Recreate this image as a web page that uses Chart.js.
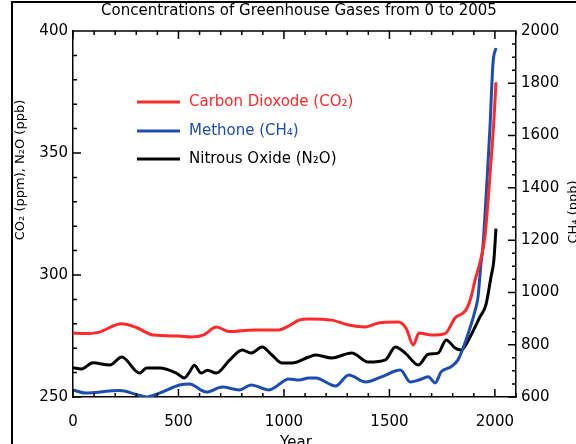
<!DOCTYPE html>
<html lang="en">
<head>
<meta charset="UTF-8">
<title>Concentrations of Greenhouse Gases from 0 to 2005</title>
<script src="https://cdn.jsdelivr.net/npm/chart.js"></script>
<style>
    html, body { margin: 0; padding: 0; background: #fff; }
    .wrap { position: relative; width: 576px; height: 444px; overflow: hidden; }
    canvas { position: absolute; left: 0; top: 0; }
    .frame {
        position: absolute; left: 11px; top: 1px; width: 600px; height: 500px;
        border-left: 2px solid #000; border-top: 2px solid #000; pointer-events: none;
    }
</style>
</head>
<body>
<div class="wrap">
    <canvas id="ghg" width="576" height="444"></canvas>
    <div class="frame"></div>
</div>
<script>
// data
const co2Years = [0, 50, 120, 230, 300, 380, 500, 560, 620, 680, 740, 860, 976, 1030, 1070, 1118, 1226, 1307, 1387, 1448, 1542, 1580, 1613, 1640, 1700, 1764, 1811, 1863, 1887, 1906, 1929, 1953, 1981, 1995, 2005];
const co2Values = [276.2, 276, 276.5, 280, 278.5, 275.4, 275, 274.6, 275.5, 278.7, 276.8, 277.5, 277.5, 279.5, 281.5, 282, 281.5, 279.5, 278.7, 280.3, 280.7, 278, 271.3, 276.2, 275.4, 276, 282.4, 285.7, 291, 298, 305, 316, 346, 363, 379];

const ch4Years = [0, 60, 175, 222, 300, 349, 410, 505, 552, 632, 708, 788, 844, 929, 1024, 1071, 1118, 1151, 1245, 1307, 1387, 1462, 1552, 1599, 1640, 1684, 1717, 1745, 1790, 1825, 1863, 1906, 1920, 1934, 1943, 1958, 1976, 1991, 2005];
const ch4Values = [627, 615, 623, 625, 610, 600, 615, 646, 650, 619, 638, 627, 646, 627, 669, 665, 673, 673, 642, 684, 657, 677, 703, 657, 665, 677, 654, 696, 715, 742, 818, 930, 983, 1110, 1174, 1365, 1621, 1877, 1935];

const n2oYears = [0, 40, 94, 175, 231, 316, 349, 410, 490, 528, 552, 575, 608, 637, 679, 741, 802, 844, 896, 943, 991, 1038, 1118, 1151, 1226, 1321, 1401, 1481, 1528, 1575, 1637, 1684, 1731, 1769, 1811, 1840, 1887, 1929, 1958, 1981, 1995, 2005];
const n2oValues = [262, 261.5, 264, 263.1, 266.4, 259.8, 261.9, 261.9, 259.8, 257.8, 260.2, 263, 259.8, 261, 259.8, 265, 269.3, 268, 270.5, 267.2, 263.9, 263.9, 266.4, 267.2, 266, 268, 264.3, 265.2, 270.5, 268, 263.1, 267.5, 268, 273.4, 270.1, 269.3, 275.4, 282.8, 288, 299, 306, 319];

const seriesNames = ["Carbon Dioxode (CO\u2082)", "Methone (CH\u2084)", "Nitrous Oxide (N\u2082O)"];
const seriesColors = ["#ff2a2a", "#1c4db3", "#000000"];

const xTicks = [0, 500, 1000, 1500, 2000];
const leftTicks = [250, 300, 350, 400];
const rightTicks = [600, 800, 1000, 1200, 1400, 1600, 1800, 2000];

const FONT = "'DejaVu Sans', sans-serif";

function pts(xs, ys) {
    return xs.map((x, i) => ({ x: x, y: ys[i] }));
}

// inward ticks, top border, title, legend and axis titles
const decor = {
    id: 'decor',
    afterDraw(chart) {
        const ctx = chart.ctx;
        const a = chart.chartArea;
        const sx = chart.scales.x, sy = chart.scales.y, sy2 = chart.scales.y2;
        ctx.save();
        ctx.strokeStyle = '#000';
        ctx.lineWidth = 1.5;
        ctx.beginPath();
        ctx.moveTo(a.left, a.top);
        ctx.lineTo(a.right, a.top);
        for (let v = 0; v <= 2100; v += 100) {
            const px = sx.getPixelForValue(v);
            const len = v % 500 === 0 ? 8 : 4;
            ctx.moveTo(px, a.bottom); ctx.lineTo(px, a.bottom - len);
            ctx.moveTo(px, a.top); ctx.lineTo(px, a.top + len);
        }
        for (let v = 250; v <= 400; v += 10) {
            const py = sy.getPixelForValue(v);
            const len = v % 50 === 0 ? 8 : 4;
            ctx.moveTo(a.left, py); ctx.lineTo(a.left + len, py);
        }
        for (let v = 600; v <= 2000; v += 50) {
            const py = sy2.getPixelForValue(v);
            const len = v % 200 === 0 ? 8 : 4;
            ctx.moveTo(a.right, py); ctx.lineTo(a.right - len, py);
        }
        ctx.stroke();

        // title
        ctx.fillStyle = '#000';
        ctx.font = '15px ' + FONT;
        ctx.textAlign = 'center';
        ctx.textBaseline = 'middle';
        ctx.fillText('Concentrations of Greenhouse Gases from 0 to 2005', 299, 11);

        // x axis title
        ctx.font = '15px ' + FONT;
        ctx.fillText('Year', 296, 443);

        // left axis title
        ctx.font = '13px ' + FONT;
        ctx.save();
        ctx.translate(21, 170);
        ctx.rotate(-Math.PI / 2);
        ctx.fillText('CO\u2082 (ppm), N\u2082O (ppb)', 0, 0);
        ctx.restore();

        // right axis title
        ctx.save();
        ctx.translate(574, 212);
        ctx.rotate(-Math.PI / 2);
        ctx.fillText('CH\u2084 (ppb)', 0, 0);
        ctx.restore();

        // legend
        const ly = [102, 131, 159];
        ctx.textAlign = 'left';
        ctx.font = '15px ' + FONT;
        ctx.lineWidth = 3;
        seriesNames.forEach((name, i) => {
            ctx.strokeStyle = seriesColors[i];
            ctx.beginPath();
            ctx.moveTo(137, ly[i]);
            ctx.lineTo(180, ly[i]);
            ctx.stroke();
            ctx.fillStyle = seriesColors[i];
            ctx.fillText(name, 189, ly[i]);
        });
        ctx.restore();
    }
};

const tickStyle = { color: '#000', font: { family: FONT, size: 15 }, callback: v => String(v) };

new Chart(document.getElementById('ghg'), {
    type: 'line',
    data: {
        datasets: [
            { label: seriesNames[0], data: pts(co2Years, co2Values), yAxisID: 'y', borderColor: seriesColors[0] },
            { label: seriesNames[1], data: pts(ch4Years, ch4Values), yAxisID: 'y2', borderColor: seriesColors[1] },
            { label: seriesNames[2], data: pts(n2oYears, n2oValues), yAxisID: 'y', borderColor: seriesColors[2] }
        ]
    },
    options: {
        responsive: false,
        animation: false,
        layout: { padding: { top: 31, left: 0, right: 0, bottom: 0 } },
        elements: {
            line: { borderWidth: 3, cubicInterpolationMode: 'monotone', fill: false },
            point: { radius: 0 }
        },
        plugins: {
            legend: { display: false },
            title: { display: false },
            tooltip: { enabled: false }
        },
        scales: {
            x: {
                type: 'linear',
                min: 0, max: 2100,
                afterBuildTicks: s => { s.ticks = xTicks.map(v => ({ value: v })); },
                afterFit: s => { s.height = 47; },
                grid: { drawOnChartArea: false, drawTicks: false },
                border: { color: '#000', width: 1.5 },
                ticks: Object.assign({ padding: 16, maxRotation: 0 }, tickStyle)
            },
            y: {
                position: 'left',
                min: 250, max: 400,
                afterBuildTicks: s => { s.ticks = leftTicks.map(v => ({ value: v })); },
                afterFit: s => { s.width = 73; },
                grid: { drawOnChartArea: false, drawTicks: false },
                border: { color: '#000', width: 1.5 },
                ticks: Object.assign({ padding: 5 }, tickStyle)
            },
            y2: {
                position: 'right',
                min: 600, max: 2000,
                afterBuildTicks: s => { s.ticks = rightTicks.map(v => ({ value: v })); },
                afterFit: s => { s.width = 60; },
                grid: { drawOnChartArea: false, drawTicks: false },
                border: { color: '#000', width: 1.5 },
                ticks: Object.assign({ padding: 5 }, tickStyle)
            }
        }
    },
    plugins: [decor]
});
</script>
</body>
</html>
